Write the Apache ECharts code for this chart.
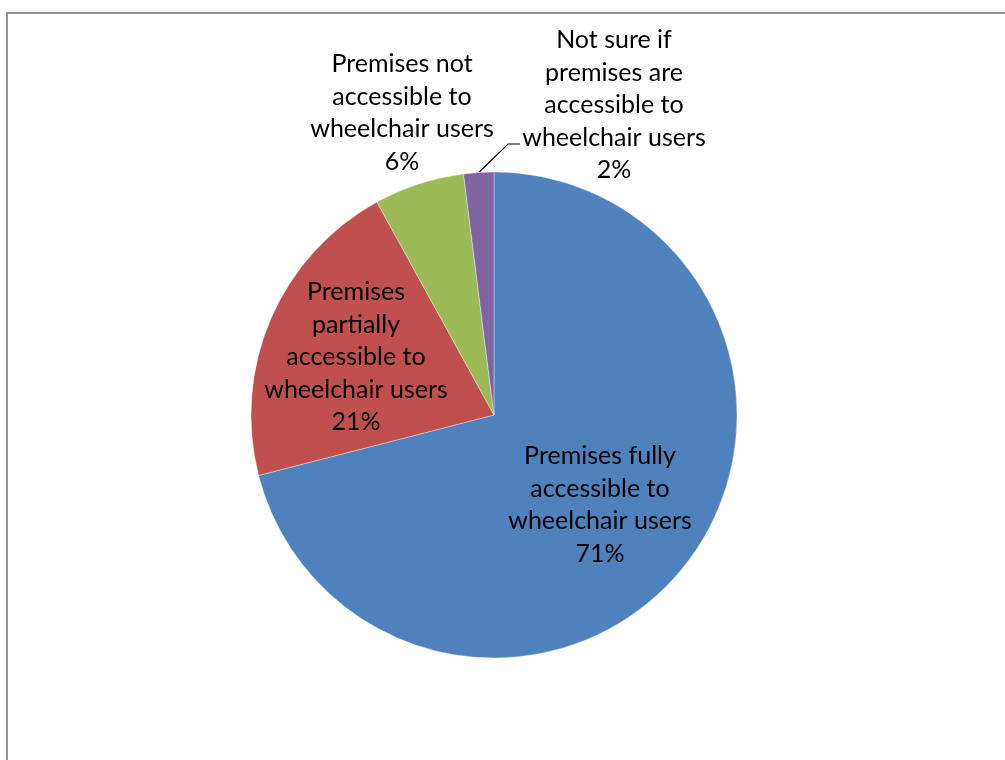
<!DOCTYPE html>
<html>
<head>
<meta charset="utf-8">
<title>Wheelchair accessibility of premises</title>
<script src="https://cdn.jsdelivr.net/npm/echarts@6/dist/echarts.min.js"></script>
<style>
  html, body { margin: 0; padding: 0; background: #ffffff; }
  #chart { width: 1005px; height: 760px; }
</style>
</head>
<body>
<div id="chart"></div>
<script>
// Survey answers about wheelchair access, in percent
const categories = [
  'Premises fully accessible to wheelchair users',
  'Premises partially accessible to wheelchair users',
  'Premises not accessible to wheelchair users',
  'Not sure if premises are accessible to wheelchair users'
];
const values = [71, 21, 6, 2];
// Line-broken label text for each slice
const labelLines = [
  ['Premises fully', 'accessible to', 'wheelchair users'],
  ['Premises', 'partially', 'accessible to', 'wheelchair users'],
  ['Premises not', 'accessible to', 'wheelchair users'],
  ['Not sure if', 'premises are', 'accessible to', 'wheelchair users']
];
const colors = ['#4F81BD', '#C0504D', '#9BBB59', '#8064A2'];

// Pie geometry
const CX = 494, CY = 415, R = 243;
// Label centres, as offsets from the pie centre
const labelOffsets = [[106, 90], [-138, -58], [-92, -302], [120, -310]];

const chart = echarts.init(document.getElementById('chart'), null, { renderer: 'canvas' });

const data = categories.map((name, i) => ({
  name: name,
  value: values[i],
  itemStyle: { color: colors[i] },
  label: { position: i < 2 ? 'inside' : 'outside' },
  labelLine: { show: i === 3 }
}));

chart.setOption({
  animation: false,
  graphic: [{
    type: 'rect',
    shape: { x: 7, y: 13, width: 1020, height: 780 },
    style: { fill: null, stroke: '#939393', lineWidth: 2 },
    silent: true
  }],
  series: [{
    type: 'pie',
    center: [CX, CY],
    radius: R,
    startAngle: 90,
    clockwise: true,
    avoidLabelOverlap: false,
    itemStyle: { borderColor: 'rgba(255,255,255,0.6)', borderWidth: 0.6 },
    emphasis: { disabled: true },
    label: {
      show: true,
      color: '#000000',
      fontFamily: 'Lato, "Open Sans", sans-serif',
      fontSize: 25,
      lineHeight: 32.5,
      align: 'center',
      formatter: p => labelLines[p.dataIndex].join('\n') + '\n' + p.percent.toFixed(0) + '%'
    },
    labelLine: {
      show: true,
      length: 10,
      length2: 10,
      lineStyle: { color: '#000000', width: 1.2 }
    },
    labelLayout: function (params) {
      const i = params.dataIndex;
      const lx = CX + labelOffsets[i][0];
      const ly = CY + labelOffsets[i][1];
      const out = { x: lx, y: ly, align: 'center', verticalAlign: 'middle' };
      if (i === 3 && params.labelLinePoints) {
        // leader from the slice rim up to the left of the label's fourth line
        const start = params.labelLinePoints[0];
        const hy = ly + 39;
        out.labelLinePoints = [start, [lx - 106, hy], [lx - 94, hy]];
      }
      return out;
    },
    data: data
  }]
});
</script>
</body>
</html>
